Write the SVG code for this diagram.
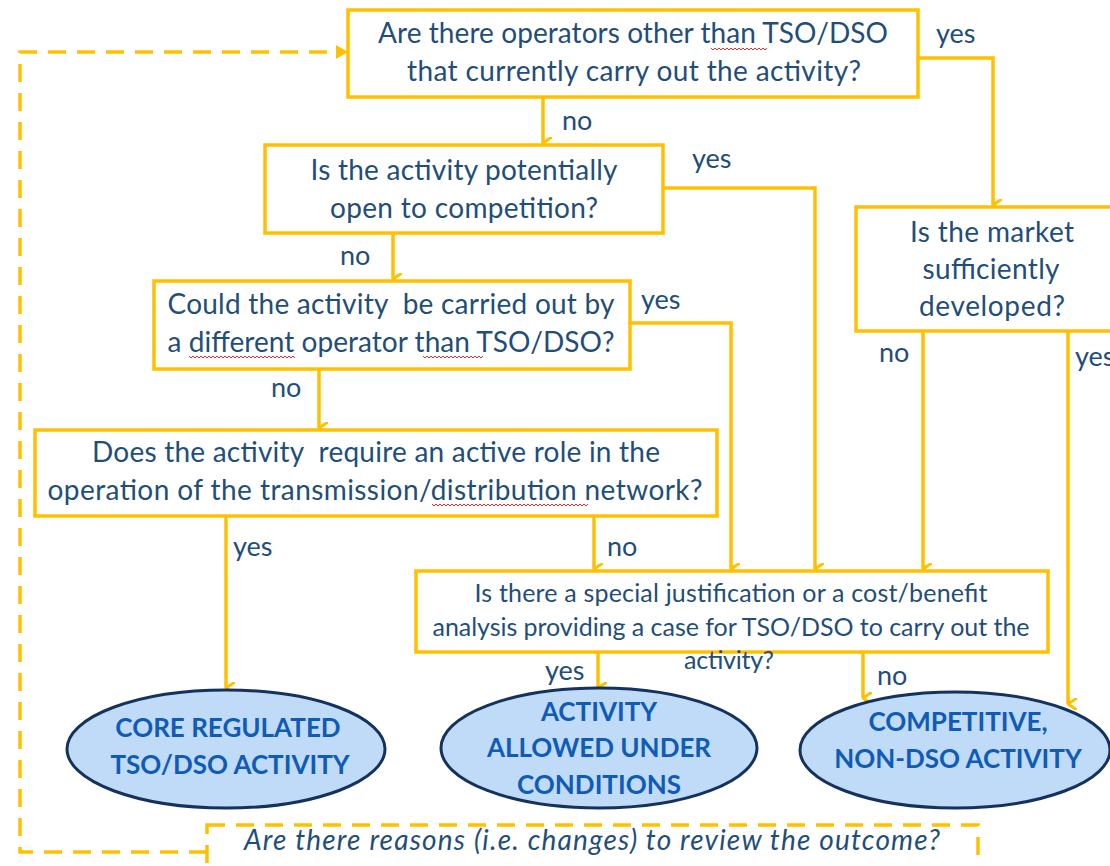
<svg xmlns="http://www.w3.org/2000/svg" width="1110" height="866" viewBox="0 0 1110 866">
<style>
.box{fill:#fff;stroke:#FFC000;stroke-width:3.5}
text{white-space:pre}
.q{font-family:Lato,"Open Sans",sans-serif;font-size:28px;fill:#1F4E79;text-anchor:middle}
.qs{font-family:Lato,"Open Sans",sans-serif;font-size:25px;fill:#1F4E79;text-anchor:middle}
.lbl{font-family:Lato,"Open Sans",sans-serif;font-size:27px;fill:#1F4E79}
.ell{fill:#BFDBF7;stroke:#15325E;stroke-width:3}
.et{font-family:Lato,"Open Sans",sans-serif;font-size:26px;font-weight:bold;fill:#0F5BB5;text-anchor:middle}
.c{fill:none;stroke:#FFC000;stroke-width:3.5;marker-end:url(#v)}
.d{fill:none;stroke:#FFC000;stroke-width:3.5;stroke-dasharray:18 11}
.it{font-family:Lato,"Open Sans",sans-serif;font-size:28px;font-style:italic;fill:#1F4E79;text-anchor:middle}
.sq{fill:none;stroke:#E03030;stroke-width:1}
</style>
<defs>
<marker id="v" viewBox="0 0 12 10" refX="6" refY="9" markerWidth="12" markerHeight="10" markerUnits="userSpaceOnUse" orient="auto-start-reverse">
<path d="M0,0 L6,9 L12,0" fill="none" stroke="#FFC000" stroke-width="3"/>
</marker>
</defs>

<g id="connectors">
<path class="c" d="M543,97 V143"/>
<path class="c" d="M918,58 H993 V205"/>
<path class="c" d="M663,188 H815 V569"/>
<path class="c" d="M393,233 V279"/>
<path class="c" d="M630,323 H731 V569"/>
<path class="c" d="M319,369 V428"/>
<path class="c" d="M226,516 V688"/>
<path class="c" d="M594,516 V569"/>
<path class="c" d="M923,331 V569"/>
<path class="c" d="M1068,331 V704"/>
<path class="c" d="M598,652 V688"/>
<path class="c" d="M863,652 V698"/>
<path class="d" d="M207,852 H20 V52 H338"/>
<path d="M336,45 L348,52 L336,59 Z" fill="#FFC000"/>
<text class="lbl" x="562" y="130">no</text>
<text class="lbl" x="936" y="43">yes</text>
<text class="lbl" x="692" y="168">yes</text>
<text class="lbl" x="340" y="265">no</text>
<text class="lbl" x="641" y="309">yes</text>
<text class="lbl" x="271" y="397">no</text>
<text class="lbl" x="233" y="556">yes</text>
<text class="lbl" x="607" y="556">no</text>
<text class="lbl" x="879" y="362">no</text>
<text class="lbl" x="1075" y="366">yes</text>
<text class="lbl" x="545" y="680">yes</text>
<text class="lbl" x="877" y="685">no</text>
</g>

<g id="q1">
<rect class="box" x="348" y="10" width="570" height="87"/>
<text class="q" x="633" y="43" textLength="510">Are there operators other than TSO/DSO</text>
<text class="q" x="634" y="81" textLength="454">that currently carry out the activity?</text>
<path class="sq" d="M711,48 l2,2 l2,-2 l2,2 l2,-2 l2,2 l2,-2 l2,2 l2,-2 l2,2 l2,-2 l2,2 l2,-2 l2,2 l2,-2 l2,2 l2,-2 l2,2 l2,-2 l2,2 l2,-2 l2,2 l2,-2 l2,2 l2,-2 l2,2 l2,-2 l2,2 l2,-2"/>
</g>
<g id="q2">
<rect class="box" x="265" y="145" width="398" height="88"/>
<text class="q" x="464" y="180" textLength="307">Is the activity potentially</text>
<text class="q" x="464" y="218" textLength="268">open to competition?</text>
</g>
<g id="q3">
<rect class="box" x="154" y="281" width="476" height="88"/>
<text class="q" x="391" y="314" textLength="447">Could the activity  be carried out by</text>
<text class="q" x="391" y="352" textLength="447">a different operator than TSO/DSO?</text>
<path class="sq" d="M189,356 l2,2 l2,-2 l2,2 l2,-2 l2,2 l2,-2 l2,2 l2,-2 l2,2 l2,-2 l2,2 l2,-2 l2,2 l2,-2 l2,2 l2,-2 l2,2 l2,-2 l2,2 l2,-2 l2,2 l2,-2 l2,2 l2,-2 l2,2 l2,-2 l2,2 l2,-2 l2,2 l2,-2 l2,2 l2,-2 l2,2 l2,-2 l2,2 l2,-2 l2,2 l2,-2 l2,2 l2,-2 l2,2 l2,-2 l2,2 l2,-2 l2,2 l2,-2 l2,2 l2,-2 l2,2 l2,-2 l2,2 l2,-2 l2,2"/>
<path class="sq" d="M423,356 l2,2 l2,-2 l2,2 l2,-2 l2,2 l2,-2 l2,2 l2,-2 l2,2 l2,-2 l2,2 l2,-2 l2,2 l2,-2 l2,2 l2,-2 l2,2 l2,-2 l2,2 l2,-2 l2,2 l2,-2 l2,2 l2,-2 l2,2 l2,-2 l2,2 l2,-2 l2,2 l2,-2"/>
</g>
<g id="q4">
<rect class="box" x="35" y="430" width="682" height="86"/>
<text class="q" x="376" y="462" textLength="568">Does the activity  require an active role in the</text>
<text class="q" x="375" y="500" textLength="655">operation of the transmission/distribution network?</text>
<path class="sq" d="M432,504 l2,2 l2,-2 l2,2 l2,-2 l2,2 l2,-2 l2,2 l2,-2 l2,2 l2,-2 l2,2 l2,-2 l2,2 l2,-2 l2,2 l2,-2 l2,2 l2,-2 l2,2 l2,-2 l2,2 l2,-2 l2,2 l2,-2 l2,2 l2,-2 l2,2 l2,-2 l2,2 l2,-2 l2,2 l2,-2 l2,2 l2,-2 l2,2 l2,-2 l2,2 l2,-2 l2,2 l2,-2 l2,2 l2,-2 l2,2 l2,-2 l2,2 l2,-2 l2,2 l2,-2 l2,2 l2,-2 l2,2 l2,-2 l2,2 l2,-2 l2,2 l2,-2 l2,2 l2,-2 l2,2 l2,-2 l2,2 l2,-2 l2,2 l2,-2 l2,2 l2,-2 l2,2 l2,-2 l2,2 l2,-2 l2,2 l2,-2 l2,2 l2,-2 l2,2 l2,-2 l2,2 l2,-2"/>
</g>
<g id="q5">
<rect class="box" x="856" y="207" width="270" height="124"/>
<text class="q" x="992" y="242" textLength="164">Is the market</text>
<text class="q" x="991" y="279" textLength="137">sufficiently</text>
<text class="q" x="992" y="316" textLength="146">developed?</text>
</g>
<g id="q6">
<rect class="box" x="416" y="571" width="632" height="81"/>
<text class="qs" x="731" y="602" textLength="513">Is there a special justification or a cost/benefit</text>
<text class="qs" x="731" y="636" textLength="597">analysis providing a case for TSO/DSO to carry out the</text>
<text class="qs" x="729" y="669" textLength="90">activity?</text>
</g>
<g id="e1">
<ellipse class="ell" cx="226" cy="749" rx="159" ry="59"/>
<text class="et" x="228" y="737">CORE REGULATED</text>
<text class="et" x="230" y="774">TSO/DSO ACTIVITY</text>
</g>
<g id="e2">
<ellipse class="ell" cx="599" cy="748" rx="158" ry="60"/>
<text class="et" x="599" y="721">ACTIVITY</text>
<text class="et" x="599" y="757">ALLOWED UNDER</text>
<text class="et" x="599" y="794">CONDITIONS</text>
</g>
<g id="e3">
<ellipse class="ell" cx="955" cy="750" rx="155" ry="58"/>
<text class="et" x="958" y="731">COMPETITIVE,</text>
<text class="et" x="958" y="768">NON-DSO ACTIVITY</text>
</g>
<g id="review">
<rect x="207" y="825" width="771" height="60" fill="none" stroke="#FFC000" stroke-width="3.5" stroke-dasharray="18 11"/>
<text class="it" x="592" y="850" textLength="696">Are there reasons (i.e. changes) to review the outcome?</text>
</g>
</svg>
